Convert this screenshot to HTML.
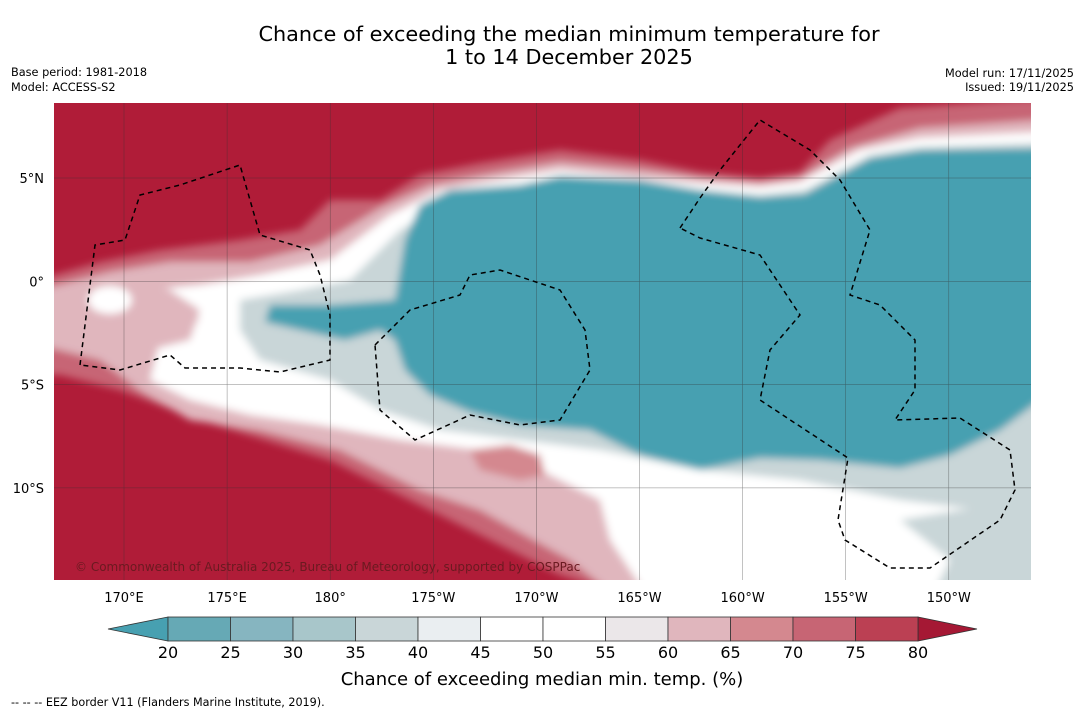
<!DOCTYPE html>
<html><head><meta charset="utf-8"><style>
body{margin:0;background:#fff;width:1085px;height:713px;overflow:hidden;font-family:"Liberation Sans","DejaVu Sans",sans-serif}
svg text{font-family:"DejaVu Sans","Liberation Sans",sans-serif}
</style></head><body>
<svg id="chart" width="1085" height="713" xmlns="http://www.w3.org/2000/svg">
<text x="569" y="41" font-size="20.8" text-anchor="middle">Chance of exceeding the median minimum temperature for</text>
<text x="569" y="64" font-size="20.8" text-anchor="middle">1 to 14 December 2025</text>
<text x="11" y="76" font-size="11.3">Base period: 1981-2018</text>
<text x="11" y="91" font-size="11.3">Model: ACCESS-S2</text>
<text x="1074" y="77" font-size="11.3" text-anchor="end">Model run: 17/11/2025</text>
<text x="1074" y="91" font-size="11.3" text-anchor="end">Issued: 19/11/2025</text>
<defs><clipPath id="mc"><rect x="54" y="103" width="977" height="477"/></clipPath>
<filter id="bl"><feGaussianBlur stdDeviation="4"/></filter></defs>
<g clip-path="url(#mc)">
<rect x="54" y="103" width="977" height="477" fill="#b01c38"/>
<g filter="url(#bl)">
<polygon fill="#c76574" points="20,285 100,262 160,250 240,240 300,230 330,200 380,200 420,175 480,163 560,150 640,160 700,172 760,178 800,172 830,140 900,108 1040,98 1040,600 640,600 560,575 450,520 330,460 200,420 120,390 60,375 20,375"/>
<polygon fill="#e0b6bd" points="20,295 110,272 170,262 250,262 320,245 380,208 430,185 500,172 560,162 640,170 700,178 760,182 800,178 850,148 920,128 1040,120 1040,600 620,600 570,560 480,510 420,490 340,450 260,430 190,420 140,390 100,360 60,350 20,340"/>
<polygon fill="#ffffff" points="150,290 200,285 260,275 330,260 390,215 440,190 500,180 560,170 640,178 700,183 760,187 800,182 860,150 920,138 1040,132 1040,600 650,600 610,540 600,500 540,470 480,450 400,440 320,425 250,415 190,400 150,380 160,340 200,320"/>
<polygon fill="#d4888f" points="470,450 510,445 540,455 545,475 520,480 480,470"/>
<polygon fill="#e0b6bd" points="54,290 120,280 170,290 200,310 190,340 150,350 100,355 54,345"/>
<ellipse fill="#ffffff" cx="110" cy="300" rx="22" ry="14"/>
<polygon fill="#c9d6d8" points="240,300 300,290 350,280 400,230 450,200 520,190 560,180 640,185 700,190 760,195 805,190 870,155 920,147 1040,143 1040,520 980,510 900,500 800,480 700,470 600,450 520,440 440,430 380,410 330,380 260,360 240,330"/>
<polygon fill="#c9d6d8" points="900,520 960,510 1040,500 1040,600 930,600 950,560"/>
<polygon fill="#47a0b1" points="405,240 420,205 450,190 520,185 560,176 640,180 700,190 760,197 805,194 870,158 920,150 1040,148 1040,400 1000,430 950,455 900,468 820,460 760,458 700,470 640,455 590,430 520,425 470,412 430,395 405,370 395,340 380,330 345,340 300,330 265,322 270,305 330,305 395,300"/>
</g>
<g stroke="#333" stroke-width="0.5" opacity="0.6" id="grid"></g>
<g fill="none" stroke="#000" stroke-width="1.5" stroke-dasharray="5,4">
<polyline points="80,365 95,245 125,240 140,195 180,185 240,165 260,235 310,250 320,275 330,315 330,360 280,372 240,368 185,368 170,355 120,370 80,365"/>
<polyline points="375,345 410,310 460,295 470,275 500,270 560,290 585,330 590,370 560,420 520,425 470,415 415,440 380,410 375,345"/>
<polyline points="680,228 700,198 720,170 760,120 810,150 840,180 870,230 850,295 880,305 915,340 915,390 895,420 960,418 1010,450 1015,490 1000,520 930,568 890,568 845,540 838,520 848,458 760,400 770,350 800,315 760,255 700,238 680,228"/>
</g>
<text x="75" y="571" font-size="12" fill="#6a1a20">© Commonwealth of Australia 2025, Bureau of Meteorology, supported by COSPPac</text>
</g>
<g id="ticks"></g>
<g id="cbar"></g>
<text x="542" y="685" font-size="18" text-anchor="middle">Chance of exceeding median min. temp. (%)</text>
<text x="11" y="706" font-size="11.2">--  --  -- EEZ border V11 (Flanders Marine Institute, 2019).</text>
</svg>
<script>
const lonLabels=["170°E","175°E","180°","175°W","170°W","165°W","160°W","155°W","150°W"];
const latLabels=["5°N","0°","5°S","10°S"];
const cbTicks=[20,25,30,35,40,45,50,55,60,65,70,75,80];
const cbColors=["#66a9b5","#86b5c0","#a8c6ca","#c9d6d8","#eaeef1","#ffffff","#ffffff","#ebe7e9","#e0b6bd","#d4888f","#c76574","#bb4053"];
const NS="http://www.w3.org/2000/svg";
function mk(t,a,p){const e=document.createElementNS(NS,t);for(const k in a)e.setAttribute(k,a[k]);p.appendChild(e);return e;}
const lonX=i=>124+i*103.1, latY=i=>178+i*103.3, cbX=v=>168+(v-20)/60*750;
const g=document.getElementById('grid'),tk=document.getElementById('ticks'),cb=document.getElementById('cbar');
lonLabels.forEach((l,i)=>{
 const ln=mk('line',{x1:lonX(i),x2:lonX(i),y1:103,y2:580},g);
 
 
 const t=mk('text',{x:lonX(i),y:602,'font-size':13,'text-anchor':'middle'},tk);t.textContent=l;
 
 
});
latLabels.forEach((l,i)=>{
 const ln=mk('line',{x1:54,x2:1031,y1:latY(i),y2:latY(i)},g);
 
 
 const t=mk('text',{x:44,y:latY(i)+5,'font-size':13,'text-anchor':'end'},tk);t.textContent=l;
 
 
});
const l0=mk('polygon',{points:`168,617 108,629 168,641`,fill:'#47a0b1',stroke:'#333','stroke-width':0.8},cb);


const l1=mk('polygon',{points:`918,617 977,629 918,641`,fill:'#a51834',stroke:'#333','stroke-width':0.8},cb);


cbColors.forEach((c,i)=>{
 const r=mk('rect',{x:cbX(cbTicks[i]),y:617,width:cbX(cbTicks[i+1])-cbX(cbTicks[i]),height:24,fill:c,stroke:'#333','stroke-width':0.8},cb);
 
 
});
cbTicks.forEach(v=>{
 const t=mk('text',{x:cbX(v),y:658,'font-size':16,'text-anchor':'middle'},cb);t.textContent=v;
 
 
});
</script>
</body></html>
